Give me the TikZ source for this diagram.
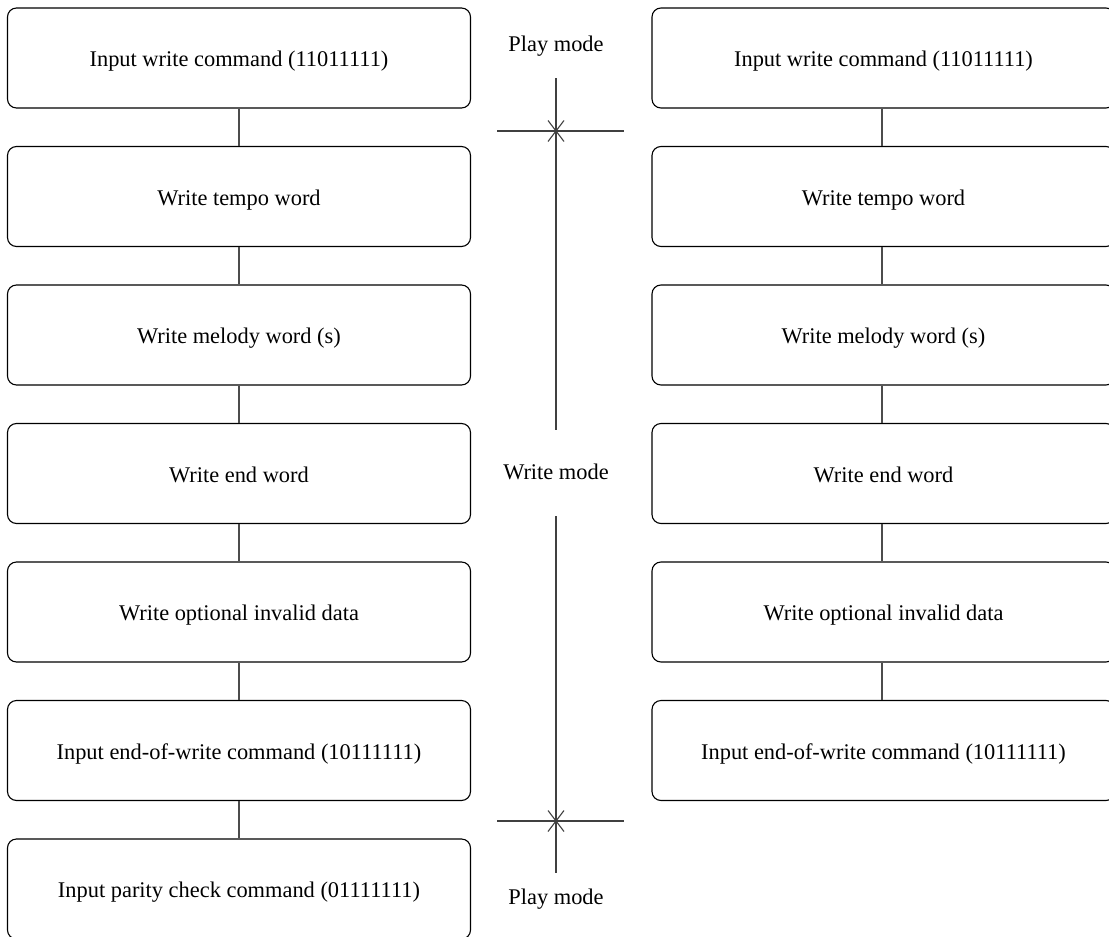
\documentclass[tikz,border=0pt]{standalone}
\usepackage{fontspec}
\setmainfont{Liberation Serif}
\begin{document}
\begin{tikzpicture}[x=1pt,y=-1pt,
  stepbox/.style={draw=black, line width=1.1pt, rounded corners=9pt,
    minimum width=463pt, minimum height=100pt, inner sep=0pt,
    text height=17.4pt, text depth=0pt,
    font=\fontsize{22.4}{26}\selectfont},
  conn/.style={draw=black!70, line width=1.1pt},
  dim/.style={draw=black!75, line width=1.1pt},
  lbl/.style={font=\fontsize{22.4}{26}\selectfont, inner sep=0pt,
    text height=17.4pt, text depth=0pt}]
\path[use as bounding box] (0,0) rectangle (1109,937);
\clip (0,0) rectangle (1109,937);
% left column
\node[stepbox] (L1) at (239,58) {Input write command (11011111)};
\node[stepbox] (L2) at (239,196.5) {Write tempo word};
\node[stepbox] (L3) at (239,335) {Write melody word (s)};
\node[stepbox] (L4) at (239,473.5) {Write end word};
\node[stepbox] (L5) at (239,612) {Write optional invalid data};
\node[stepbox] (L6) at (239,750.5) {Input end-of-write command (10111111)};
\node[stepbox] (L7) at (239,889) {Input parity check command (01111111)};
% right column
\node[stepbox] (R1) at (883.5,58) {Input write command (11011111)};
\node[stepbox] (R2) at (883.5,196.5) {Write tempo word};
\node[stepbox] (R3) at (883.5,335) {Write melody word (s)};
\node[stepbox] (R4) at (883.5,473.5) {Write end word};
\node[stepbox] (R5) at (883.5,612) {Write optional invalid data};
\node[stepbox] (R6) at (883.5,750.5) {Input end-of-write command (10111111)};
% connectors
\foreach \a/\b in {1/2,2/3,3/4,4/5,5/6,6/7} {\draw[conn] (L\a.south) -- (L\b.north);}
\foreach \a/\b in {1/2,2/3,3/4,4/5,5/6} {\draw[conn] ([xshift=-1.5pt]R\a.south) -- ([xshift=-1.5pt]R\b.north);}
% middle labels
\node[lbl] (P1) at (556,43) {Play mode};
\node[lbl] (W) at (556,471) {Write mode};
\node[lbl] (P2) at (556,896) {Play mode};
% dimension lines
\coordinate (t1) at (556,78);
\coordinate (t2) at (556,430);
\coordinate (b1) at (556,516);
\coordinate (b2) at (556,873);
\coordinate (c1) at (556,131);
\coordinate (c2) at (556,821);
\draw[dim] (t1) -- (t2);
\draw[dim] (b1) -- (b2);
\draw[dim] (497,131) -- (624,131);
\draw[dim] (497,821) -- (624,821);
\draw[dim] ([shift={(-8,-10.5)}]c1) -- ([shift={(8,10.5)}]c1);
\draw[dim] ([shift={(-8,10.5)}]c1) -- ([shift={(8,-10.5)}]c1);
\draw[dim] ([shift={(-8,-10.5)}]c2) -- ([shift={(8,10.5)}]c2);
\draw[dim] ([shift={(-8,10.5)}]c2) -- ([shift={(8,-10.5)}]c2);
\end{tikzpicture}
\end{document}
